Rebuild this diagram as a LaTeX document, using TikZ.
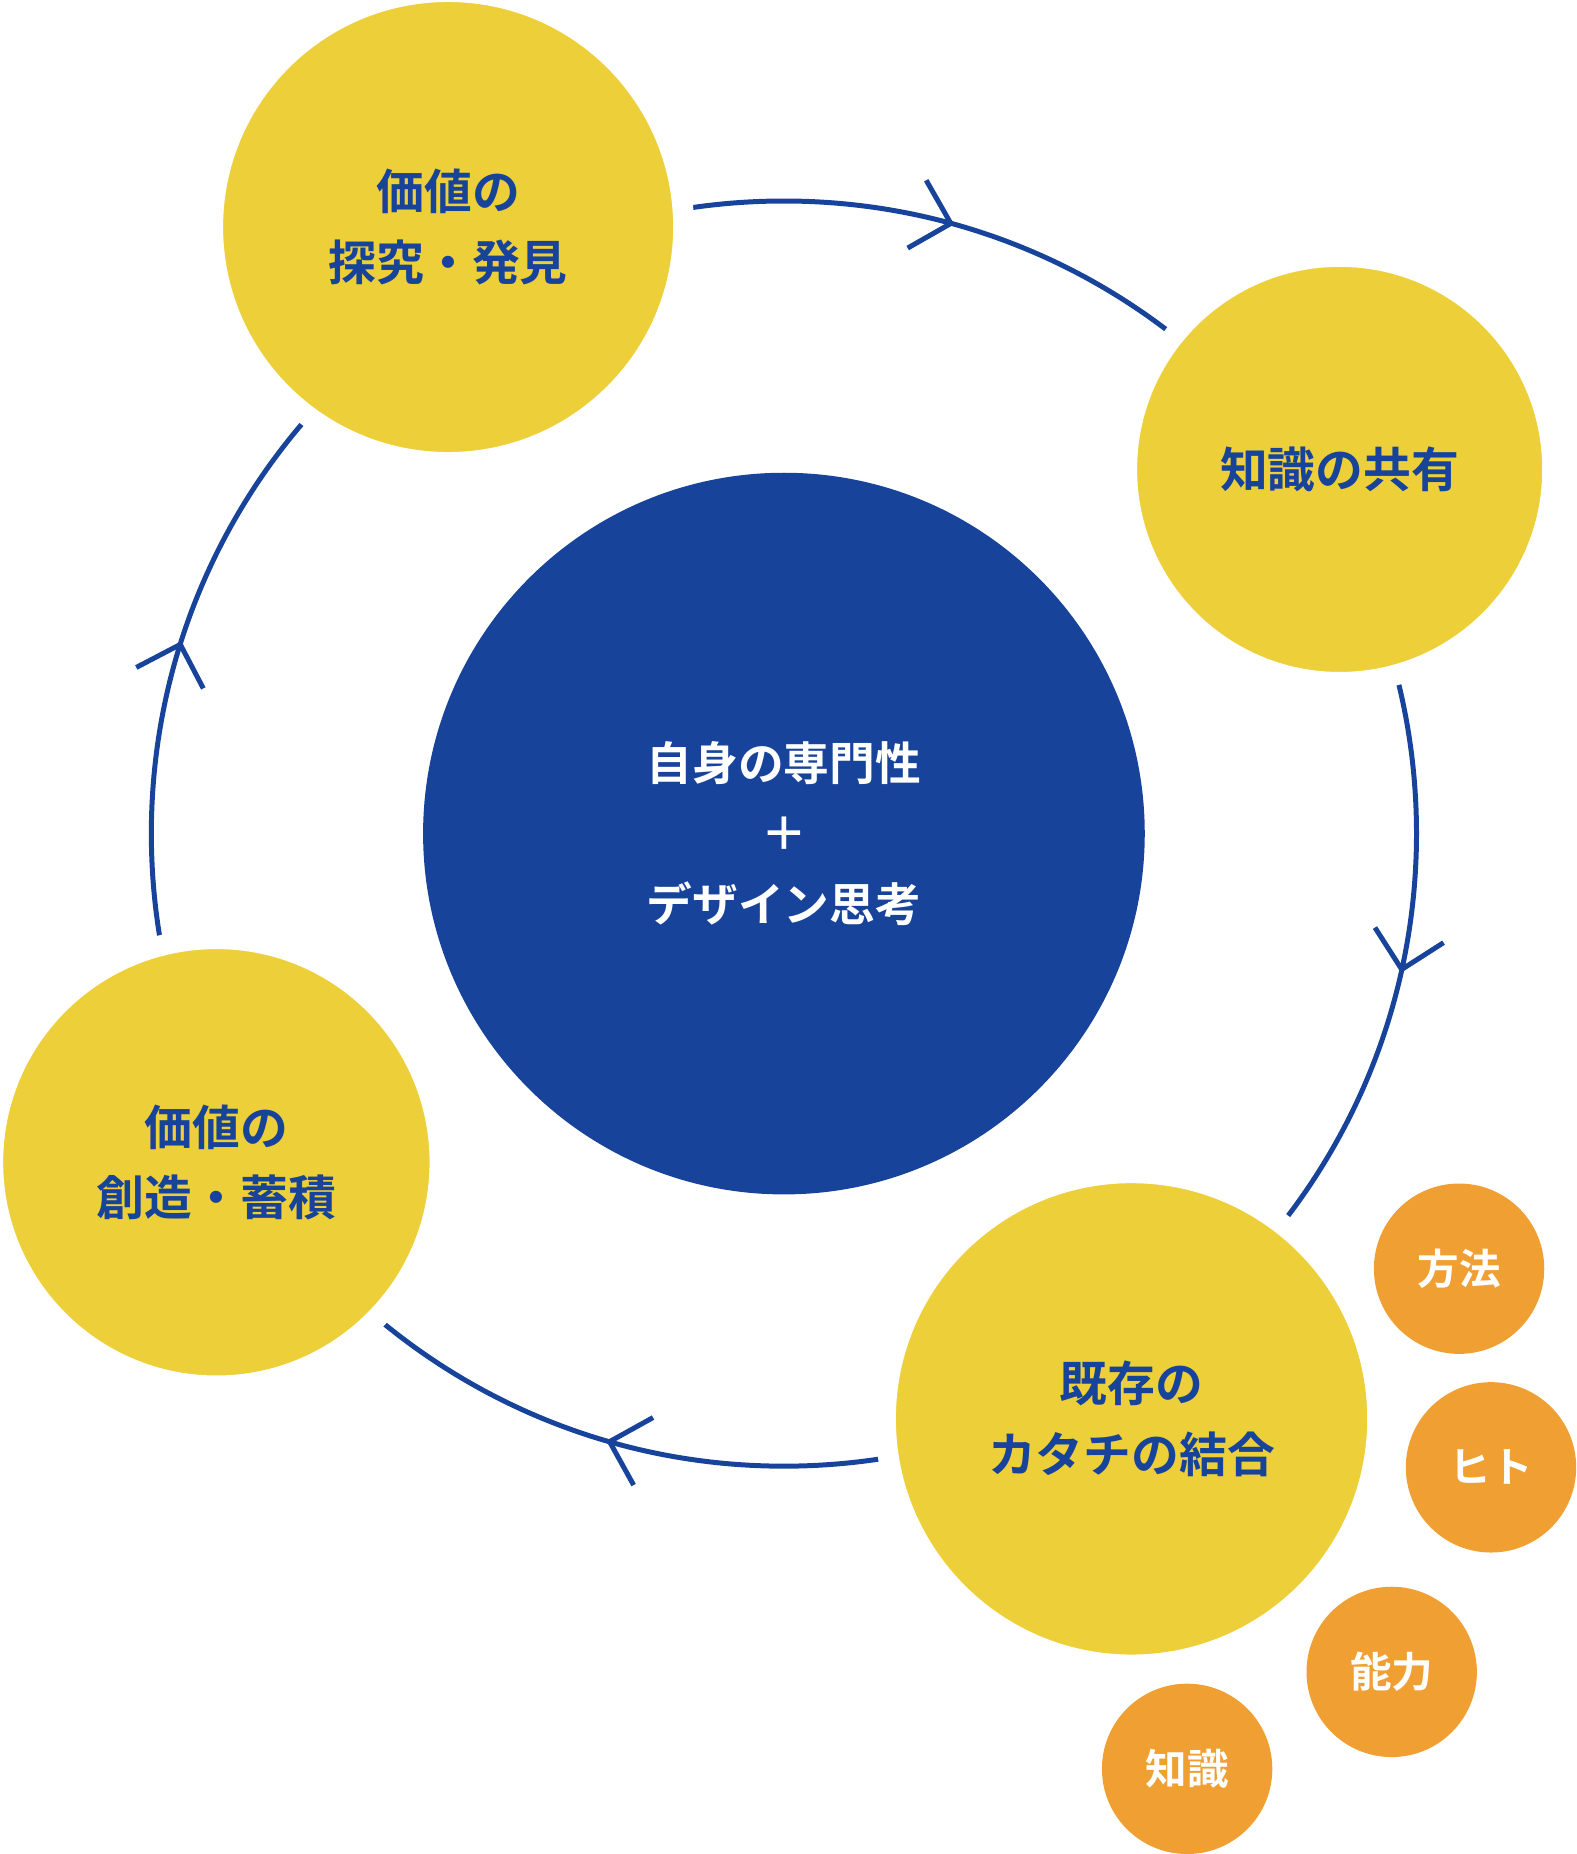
\documentclass[tikz,border=0pt]{standalone}
\usepackage{fontspec}
\usetikzlibrary{calc}
\setmainfont{Noto Sans CJK JP}[BoldFont={* Bold}]
\definecolor{navy}{HTML}{17449A}
\definecolor{ylw}{HTML}{EDD039}
\definecolor{org}{HTML}{F0A033}
\begin{document}
\begin{tikzpicture}[x=0.01cm,y=0.01cm,
  ring/.style={draw=navy,line width=1.2pt},
  yc/.style={circle,fill=ylw,draw=white,line width=5pt,inner sep=0pt,align=center,text=navy,font=\fontsize{11.5}{17}\selectfont\bfseries},
  oc/.style={circle,fill=org,inner sep=0pt,minimum size=1.44cm,text=white,font=\fontsize{10}{12}\selectfont\bfseries},
  chev/.style={draw=navy,line width=1.2pt}]
\useasboundingbox (0,0) rectangle (1333,1568);
\coordinate (c) at (663,863);
\draw[ring] (c) circle (535);
\foreach \a in {74.7,-12.4,-106,162.6}{
  \coordinate (t) at ($(c)+(\a:535)$);
  \draw[chev] ($(t)+(\a+90+45:42)$) -- (t) -- ($(t)+(\a+90-45:42)$);
}
\node[circle,fill=navy,minimum size=6.1cm,inner sep=0pt,text=white,align=center,font=\fontsize{11}{17}\selectfont\bfseries] (m) at (c) {自身の専門性\\＋\\デザイン思考};
\node[yc,minimum size=3.98cm] (a) at (379,1376) {価値の\\探究・発見};
\node[yc,minimum size=3.6cm] (b) at (1133,1171) {知識の共有};
\node[yc,minimum size=4.16cm] (d) at (957,368) {既存の\\カタチの結合};
\node[yc,minimum size=3.78cm] (e) at (183,585) {価値の\\創造・蓄積};
\node[oc] (o1) at (1234,495) {方法};
\node[oc] (o2) at (1261,327) {ヒト};
\node[oc] (o3) at (1177,154) {能力};
\node[oc] (o4) at (1004,72) {知識};
\end{tikzpicture}
\end{document}
